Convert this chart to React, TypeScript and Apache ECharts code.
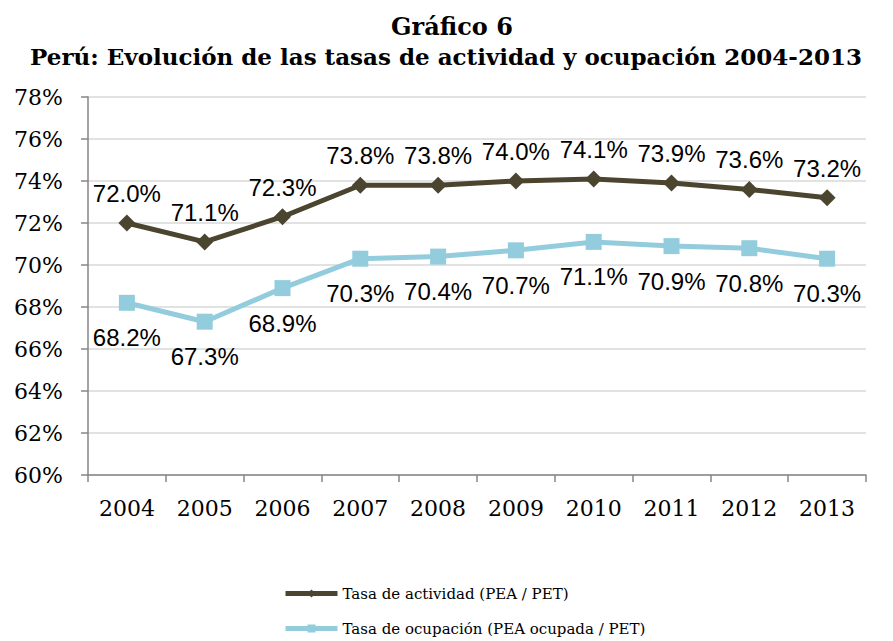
import React, { useEffect, useRef } from "react";
import * as echarts from "echarts";

const years = ["2004", "2005", "2006", "2007", "2008", "2009", "2010", "2011", "2012", "2013"];
const actividad = [72.0, 71.1, 72.3, 73.8, 73.8, 74.0, 74.1, 73.9, 73.6, 73.2];
const ocupacion = [68.2, 67.3, 68.9, 70.3, 70.4, 70.7, 71.1, 70.9, 70.8, 70.3];
const seriesNames = ["Tasa de actividad (PEA / PET)", "Tasa de ocupación (PEA ocupada / PET)"];
const titleLines = ["Gráfico 6", "Perú: Evolución de las tasas de actividad y ocupación 2004-2013"];

export default function App() {
  const ref = useRef<HTMLDivElement>(null);
  useEffect(() => {
    if (!ref.current) return;
    const chart = echarts.init(ref.current, null, { renderer: "svg" });
    const serif = "'DejaVu Serif', serif";
    const labelFont = "'Liberation Sans', sans-serif";
    chart.setOption({
      animation: false,
      backgroundColor: "#ffffff",
      title: [
        {
          text: titleLines[0],
          left: 447,
          top: 9,
          textAlign: "center",
          textStyle: { fontFamily: serif, fontWeight: "bold", fontSize: 24, color: "#000" },
        },
        {
          text: titleLines[1],
          left: 441,
          top: 40,
          textAlign: "center",
          textStyle: { fontFamily: serif, fontWeight: "bold", fontSize: 23, color: "#000" },
        },
      ],
      legend: {
        orient: "vertical",
        left: 283,
        top: 586,
        padding: 0,
        itemWidth: 52,
        itemHeight: 10,
        itemGap: 20,
        lineStyle: { width: 5 },
        textStyle: { fontFamily: serif, fontSize: 15, color: "#000" },
        data: seriesNames,
      },
      grid: { left: 88, right: 27, top: 97, bottom: 166 },
      xAxis: {
        type: "category",
        data: years,
        boundaryGap: true,
        axisLine: { lineStyle: { color: "#868686", width: 1.5 } },
        axisTick: { show: true, alignWithLabel: false, length: 7, lineStyle: { color: "#868686", width: 1.5 } },
        axisLabel: { fontFamily: serif, fontSize: 22, color: "#000", margin: 22 },
      },
      yAxis: {
        type: "value",
        min: 60,
        max: 78,
        interval: 2,
        axisLine: { show: true, lineStyle: { color: "#868686", width: 1.5 } },
        axisTick: { show: true, length: 7, lineStyle: { color: "#868686", width: 1.5 } },
        axisLabel: { fontFamily: serif, fontSize: 22, color: "#000", margin: 25, formatter: (v: number) => `${v}%` },
        splitLine: { lineStyle: { color: "#d9d9d9", width: 1.5 } },
      },
      series: [
        {
          name: seriesNames[0],
          type: "line",
          data: actividad,
          symbol: "diamond",
          symbolSize: 17,
          lineStyle: { color: "#4b4530", width: 5 },
          itemStyle: { color: "#4b4530" },
          label: {
            show: true,
            position: "top",
            distance: 9,
            fontFamily: labelFont,
            fontSize: 24,
            color: "#000",
            formatter: (p: any) => `${p.value.toFixed(1)}%`,
          },
        },
        {
          name: seriesNames[1],
          type: "line",
          data: ocupacion,
          symbol: "rect",
          symbolSize: 16,
          lineStyle: { color: "#93cddd", width: 5 },
          itemStyle: { color: "#93cddd" },
          label: {
            show: true,
            position: "bottom",
            distance: 15,
            fontFamily: labelFont,
            fontSize: 24,
            color: "#000",
            formatter: (p: any) => `${p.value.toFixed(1)}%`,
          },
        },
      ],
    });
    return () => chart.dispose();
  }, []);
  return <div ref={ref} style={{ width: 893, height: 641, position: "absolute", left: 0, top: 0 }} />;
}
